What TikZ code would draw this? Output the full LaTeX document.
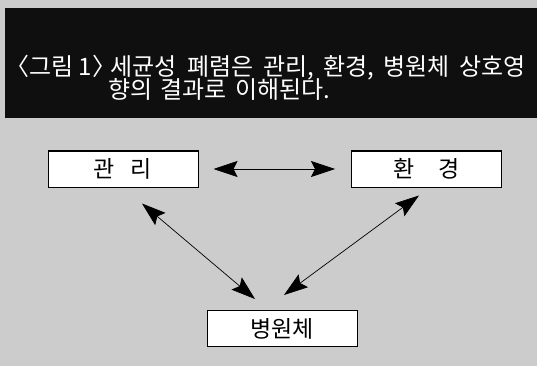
\documentclass[tikz,border=0pt]{standalone}
\usepackage{fontspec}
\newfontfamily\cjk{Noto Sans CJK KR}
\usetikzlibrary{arrows.meta}
\definecolor{bggray}{gray}{0.80}
\definecolor{band}{gray}{0.06}
\tikzset{
  box/.style={draw=black, line width=1pt, fill=white, minimum width=150pt, minimum height=36pt, inner sep=0pt, font=\cjk\fontsize{23pt}{26pt}\selectfont},
  biarrow/.style={line width=0.7pt, {Stealth[length=24pt,width=16pt,inset=4pt]}-{Stealth[length=24pt,width=16pt,inset=4pt]}},
  titletext/.style={text=white, inner sep=0pt, anchor=base west, font=\cjk\fontsize{24pt}{28pt}\selectfont}
}
\begin{document}
\begin{tikzpicture}[x=1pt,y=-1pt]
\useasboundingbox (0,0) rectangle (537,366);
\fill[bggray] (0,0) rectangle (537,366);
\fill[band] (5,8) rectangle (537,118);
\node[titletext] (t1) at (5,76) {〈그림 1〉\hspace{-6pt}세균성\hspace{6pt} 폐렴은\hspace{4pt} 관리,\hspace{4pt} 환경,\hspace{4pt} 병원체\hspace{4pt} 상호영};
\node[titletext] (t2) at (108,99) {향의\hspace{3pt} 결과로\hspace{3pt} 이해된다.};
\node[box] (gl) at (123,169) {관\hspace{16pt}리};
\node[box] (hk) at (426.5,169) {환\hspace{24pt}경};
\node[box] (bw) at (282,328.5) {병원체};
\draw[biarrow] ([xshift=15pt]gl.east) -- ([xshift=-16pt]hk.west);
\draw[biarrow] ([xshift=19pt,yshift=-16pt]gl.south) -- ([xshift=-27pt,yshift=11pt]bw.north);
\draw[biarrow] ([xshift=-7.5pt,yshift=-8pt]hk.south) -- ([xshift=2pt,yshift=15pt]bw.north);
\end{tikzpicture}
\end{document}
